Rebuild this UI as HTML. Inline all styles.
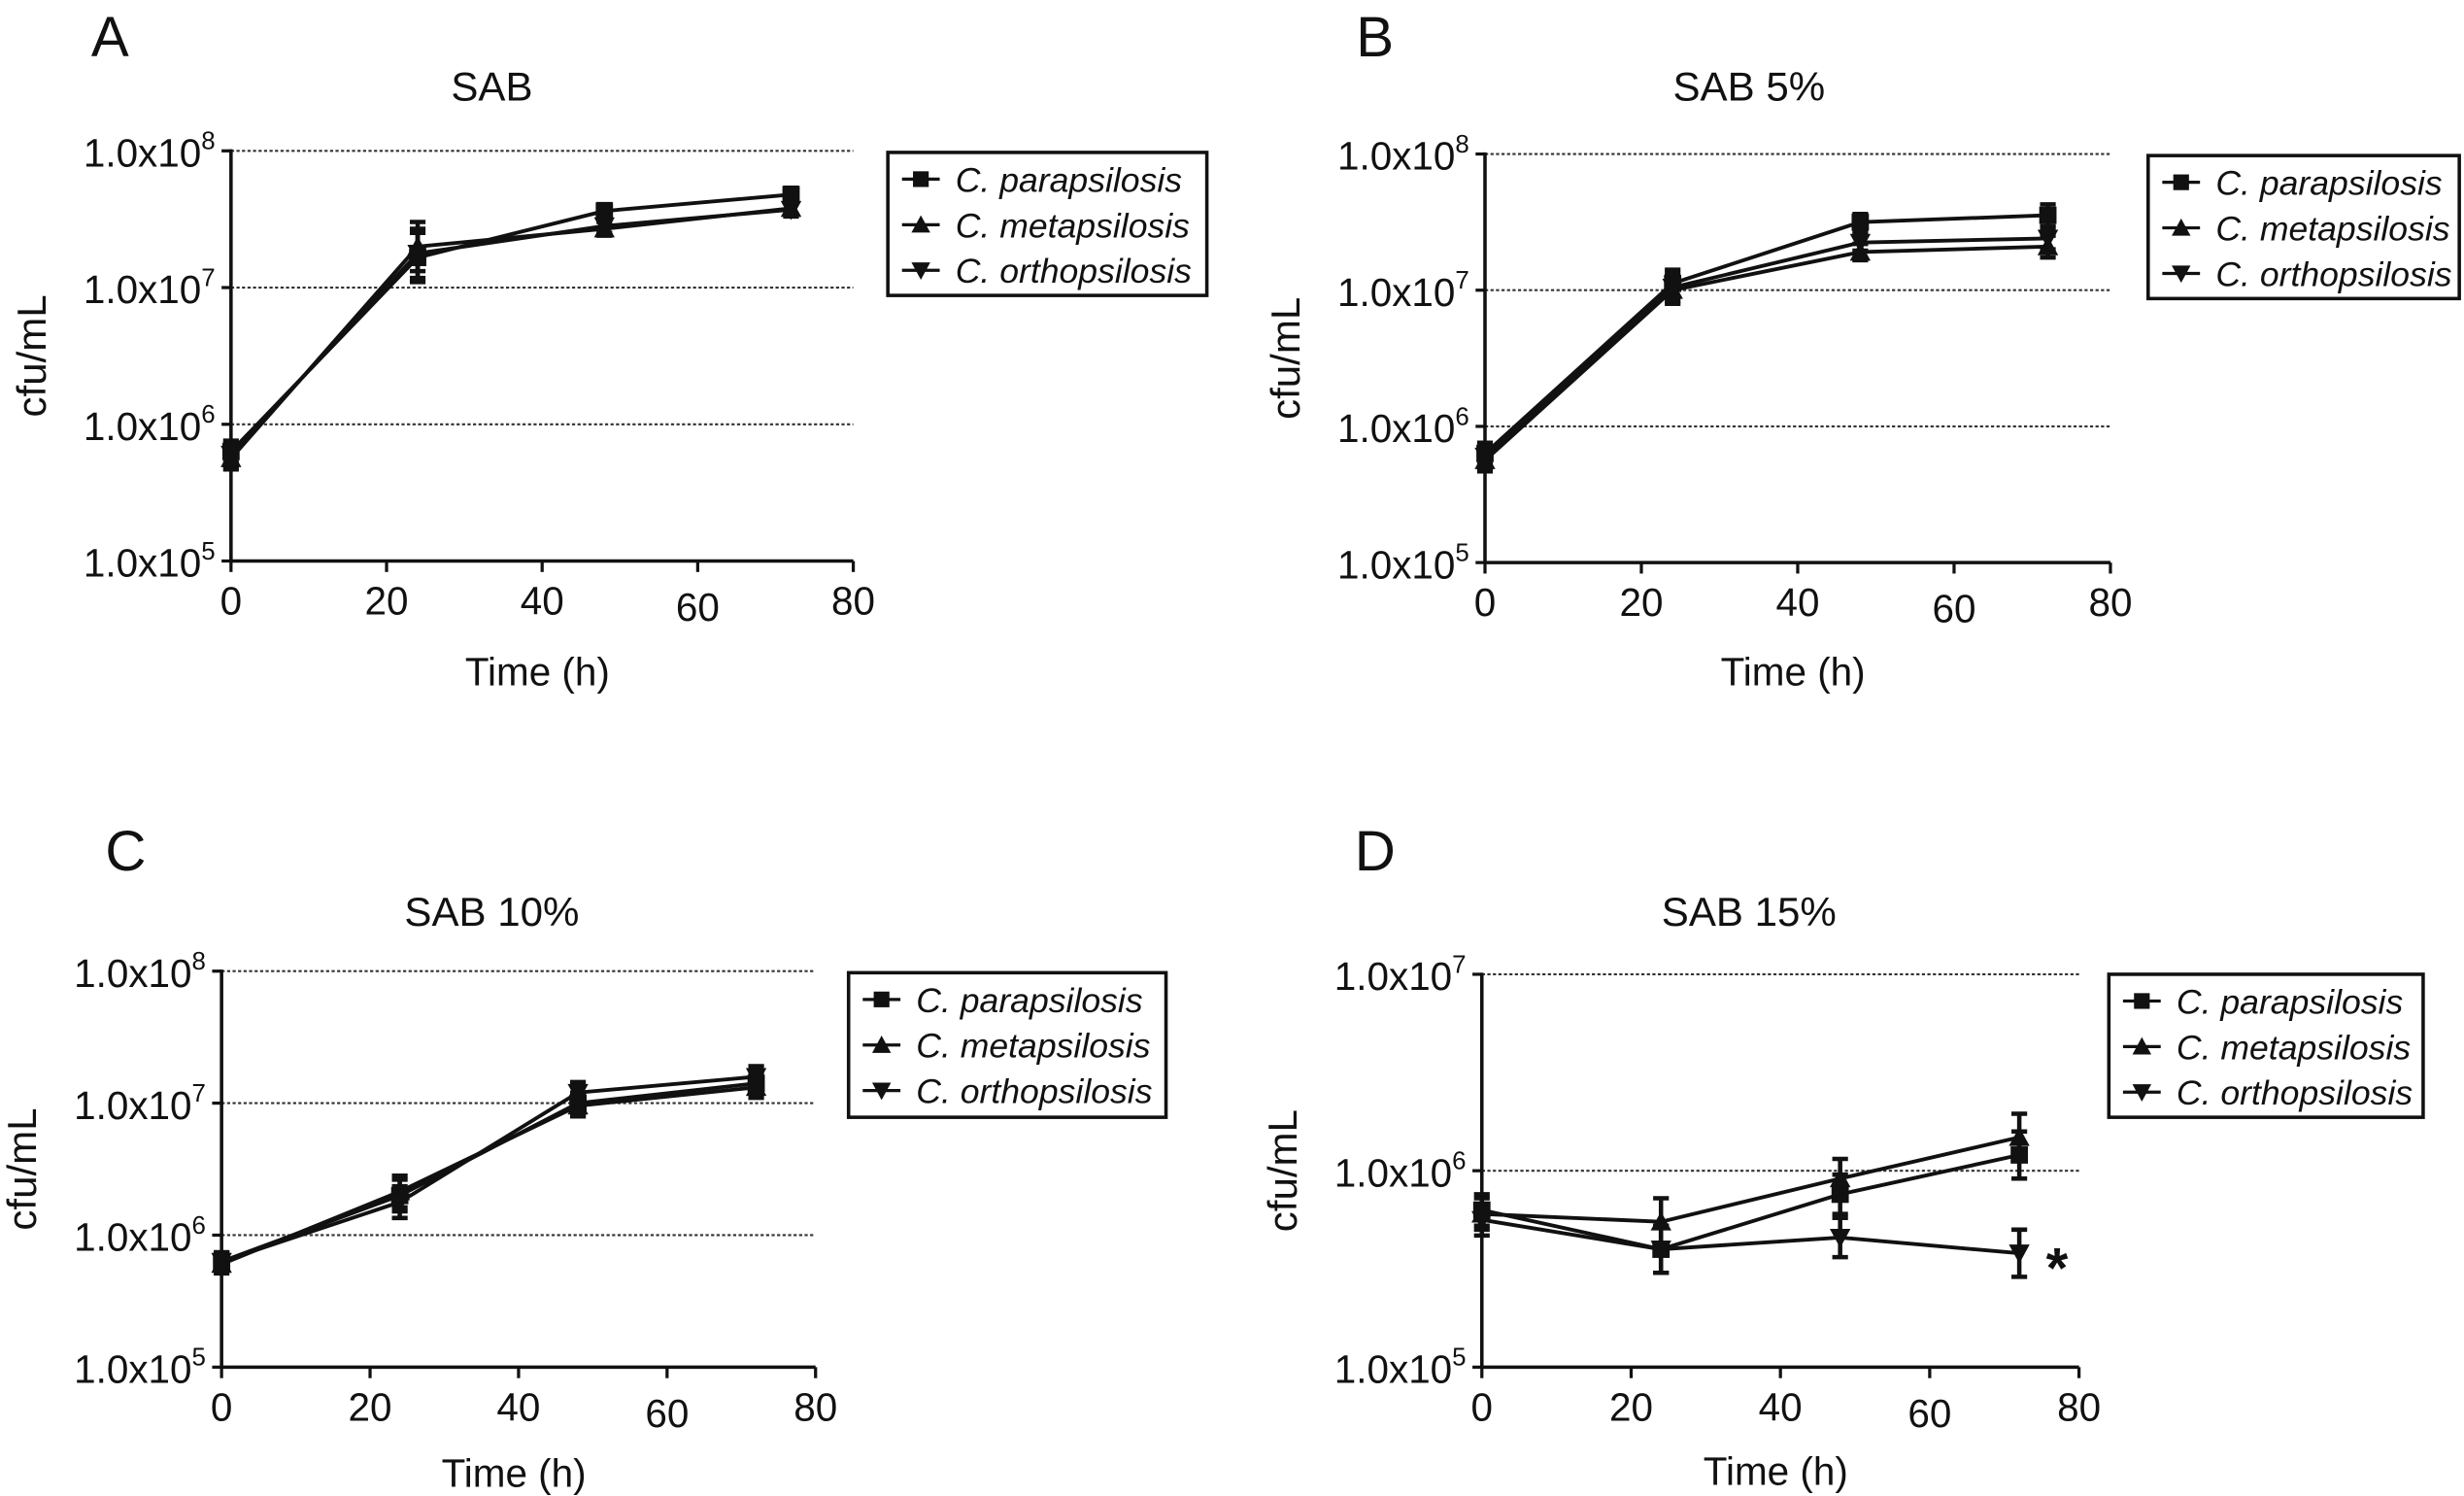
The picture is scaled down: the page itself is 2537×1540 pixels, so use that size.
<!DOCTYPE html>
<html><head><meta charset="utf-8"><style>
html,body{margin:0;padding:0;background:#fff;}
svg{display:block;}
text{font-family:"Liberation Sans Narrow","Liberation Sans",sans-serif;fill:#111;}
</style></head><body>
<svg id="fig" width="2537" height="1540" viewBox="0 0 1568 952" preserveAspectRatio="none" xmlns="http://www.w3.org/2000/svg"></svg>
<script>
const timesH = [0, 24, 48, 72];
const seriesNames = ["C. parapsilosis", "C. metapsilosis", "C. orthopsilosis"];
// log10(cfu/mL) values per panel
const aPara = [5.80, 7.22, 7.56, 7.68];
const aMeta = [5.75, 7.30, 7.43, 7.58];
const aOrtho = [5.78, 7.25, 7.45, 7.57];
const aErr = [0.08, 0.18, 0.05, 0.05];
const bPara = [5.80, 7.05, 7.50, 7.55];
const bMeta = [5.75, 7.00, 7.28, 7.32];
const bOrtho = [5.78, 7.02, 7.35, 7.38];
const bErr = [0.08, 0.1, 0.06, 0.08];
const cPara = [5.80, 6.30, 7.00, 7.15];
const cMeta = [5.78, 6.33, 6.98, 7.12];
const cOrtho = [5.80, 6.25, 7.08, 7.20];
const cErr = [0.07, 0.12, 0.08, 0.08];
const dPara = [5.80, 5.60, 5.88, 6.08];
const dMeta = [5.78, 5.74, 5.96, 6.17];
const dOrtho = [5.75, 5.60, 5.66, 5.58];
const dErr = [0.08, 0.12, 0.1, 0.12];
const xTicks = [0, 20, 40, 60, 80];

const panels = [
 {id:"a",letter:"A",title:"SAB",lx:70,ly:22,tx:313,ty:55,x0:147,x1:543,y0:357,yTop:96,decMin:5,decMax:8,data:[aPara,aMeta,aOrtho],err:aErr,leg:[565,97,203,91],timeY:427,xl:380},
 {id:"b",letter:"B",title:"SAB 5%",lx:875,ly:22,tx:1113,ty:55,x0:945,x1:1343,y0:358,yTop:98,decMin:5,decMax:8,data:[bPara,bMeta,bOrtho],err:bErr,leg:[1367,99,198,91],timeY:427,xl:382},
 {id:"c",letter:"C",title:"SAB 10%",lx:80,ly:540,tx:313,ty:580,x0:141,x1:519,y0:870,yTop:618,decMin:5,decMax:8,data:[cPara,cMeta,cOrtho],err:cErr,leg:[540,619,202,92],timeY:937,xl:892},
 {id:"d",letter:"D",title:"SAB 15%",lx:875,ly:540,tx:1113,ty:580,x0:943,x1:1323,y0:870,yTop:620,decMin:5,decMax:7,data:[dPara,dMeta,dOrtho],err:dErr,leg:[1342,620,200,91],timeY:936,xl:892,star:true}
];
const NS="http://www.w3.org/2000/svg";
const svg=document.getElementById("fig");
function el(tag,attrs,parent,txt){const e=document.createElementNS(NS,tag);for(const k in attrs)e.setAttribute(k,attrs[k]);if(txt!==undefined)e.textContent=txt;(parent||svg).appendChild(e);return e;}
function marker(g,type,x,y,s){
 let m;
 if(type===0){m=el("rect",{x:x-s,y:y-s,width:2*s,height:2*s,fill:"#111"},g);}
 else if(type===1){m=el("polygon",{points:`${x},${y-s*1.2} ${x-s*1.2},${y+s} ${x+s*1.2},${y+s}`,fill:"#111"},g);}
 else {m=el("polygon",{points:`${x},${y+s*1.2} ${x-s*1.2},${y-s} ${x+s*1.2},${y-s}`,fill:"#111"},g);}
 return m;
}
panels.forEach(p=>{
 const g=el("g",{});
 
 
 const xs=v=>p.x0+(v/80)*(p.x1-p.x0);
 const ys=v=>p.y0-(v-p.decMin)/(p.decMax-p.decMin)*(p.y0-p.yTop);
 let t=el("text",{x:p.lx,y:p.ly+14,"font-size":36,"text-anchor":"middle","font-family":"Liberation Sans, sans-serif"},g,p.letter);
 
 t=el("text",{x:p.tx,y:p.ty+9,"font-size":26,"text-anchor":"middle"},g,p.title);
 
 for(let d=p.decMin;d<=p.decMax;d++){
  const y=ys(d);
  if(d>p.decMin){const gl=el("line",{x1:p.x0,x2:p.x1,y1:y,y2:y,stroke:"#333","stroke-width":1.3,"stroke-dasharray":"2,1.5"},g);}
  el("line",{x1:p.x0-6,x2:p.x0,y1:y,y2:y,stroke:"#111","stroke-width":2},g);
  const tl=el("text",{x:p.x0-10,y:y+10,"font-size":25,"text-anchor":"end"},g);
  
  tl.appendChild(document.createTextNode("1.0x10"));
  el("tspan",{dy:-11,"font-size":16},tl,String(d));
 }
 el("line",{x1:p.x0,x2:p.x0,y1:p.yTop-1,y2:p.y0,stroke:"#111","stroke-width":2.2},g);
 el("line",{x1:p.x0,x2:p.x1,y1:p.y0,y2:p.y0,stroke:"#111","stroke-width":2.2},g);
 xTicks.forEach(v=>{
  el("line",{x1:xs(v),x2:xs(v),y1:p.y0,y2:p.y0+7,stroke:"#111","stroke-width":2},g);
  const tl=el("text",{x:xs(v),y:p.y0+34+(v===60?4:0),"font-size":25,"text-anchor":"middle"},g,String(v));
  
 });
 t=el("text",{x:(p.x0+p.x1)/2-3,y:p.timeY+9,"font-size":25,"text-anchor":"middle"},g,"Time (h)");
 
 const ym=(p.yTop+p.y0)/2;
 t=el("text",{x:0,y:0,"font-size":26,"text-anchor":"middle","font-family":"Liberation Sans, sans-serif",transform:`translate(${p.x0-118},${ym}) rotate(-90)`},g,"cfu/mL");
 
 p.data.forEach((vals,si)=>{
  const sg=el("g",{},g);
  
  
  const pts=vals.map((v,i)=>`${xs(timesH[i])},${ys(v)}`).join(" ");
  el("polyline",{points:pts,fill:"none",stroke:"#111","stroke-width":2.4},sg);
  vals.forEach((v,i)=>{
   const x=xs(timesH[i]);const e=p.err[i];
   const eb=el("path",{d:`M${x},${ys(v-e)}V${ys(v+e)}M${x-5},${ys(v-e)}H${x+5}M${x-5},${ys(v+e)}H${x+5}`,stroke:"#111","stroke-width":2.8,fill:"none"},sg);
   
   const m=marker(sg,si,x,ys(v),5.5);
   
  });
 });
 if(p.star){t=el("text",{x:xs(72)+24,y:ys(dOrtho[3])+22,"font-size":36,"font-weight":"bold","text-anchor":"middle","font-family":"Liberation Sans, sans-serif"},g,"*");}
 const [lx,ly,lw,lh]=p.leg;
 const lg=el("g",{},g);
 
 el("rect",{x:lx,y:ly,width:lw,height:lh,fill:"#fff",stroke:"#111","stroke-width":2.2},lg);
 seriesNames.forEach((n,i)=>{
  const yy=ly+17+i*29;
  el("line",{x1:lx+9,x2:lx+33,y1:yy,y2:yy,stroke:"#111","stroke-width":2},lg);
  marker(lg,i,lx+21,yy,5);
  const tt=el("text",{x:lx+43,y:yy+8,"font-size":22,"font-style":"italic"},lg,n);
  
 });
});
</script>
</body></html>
